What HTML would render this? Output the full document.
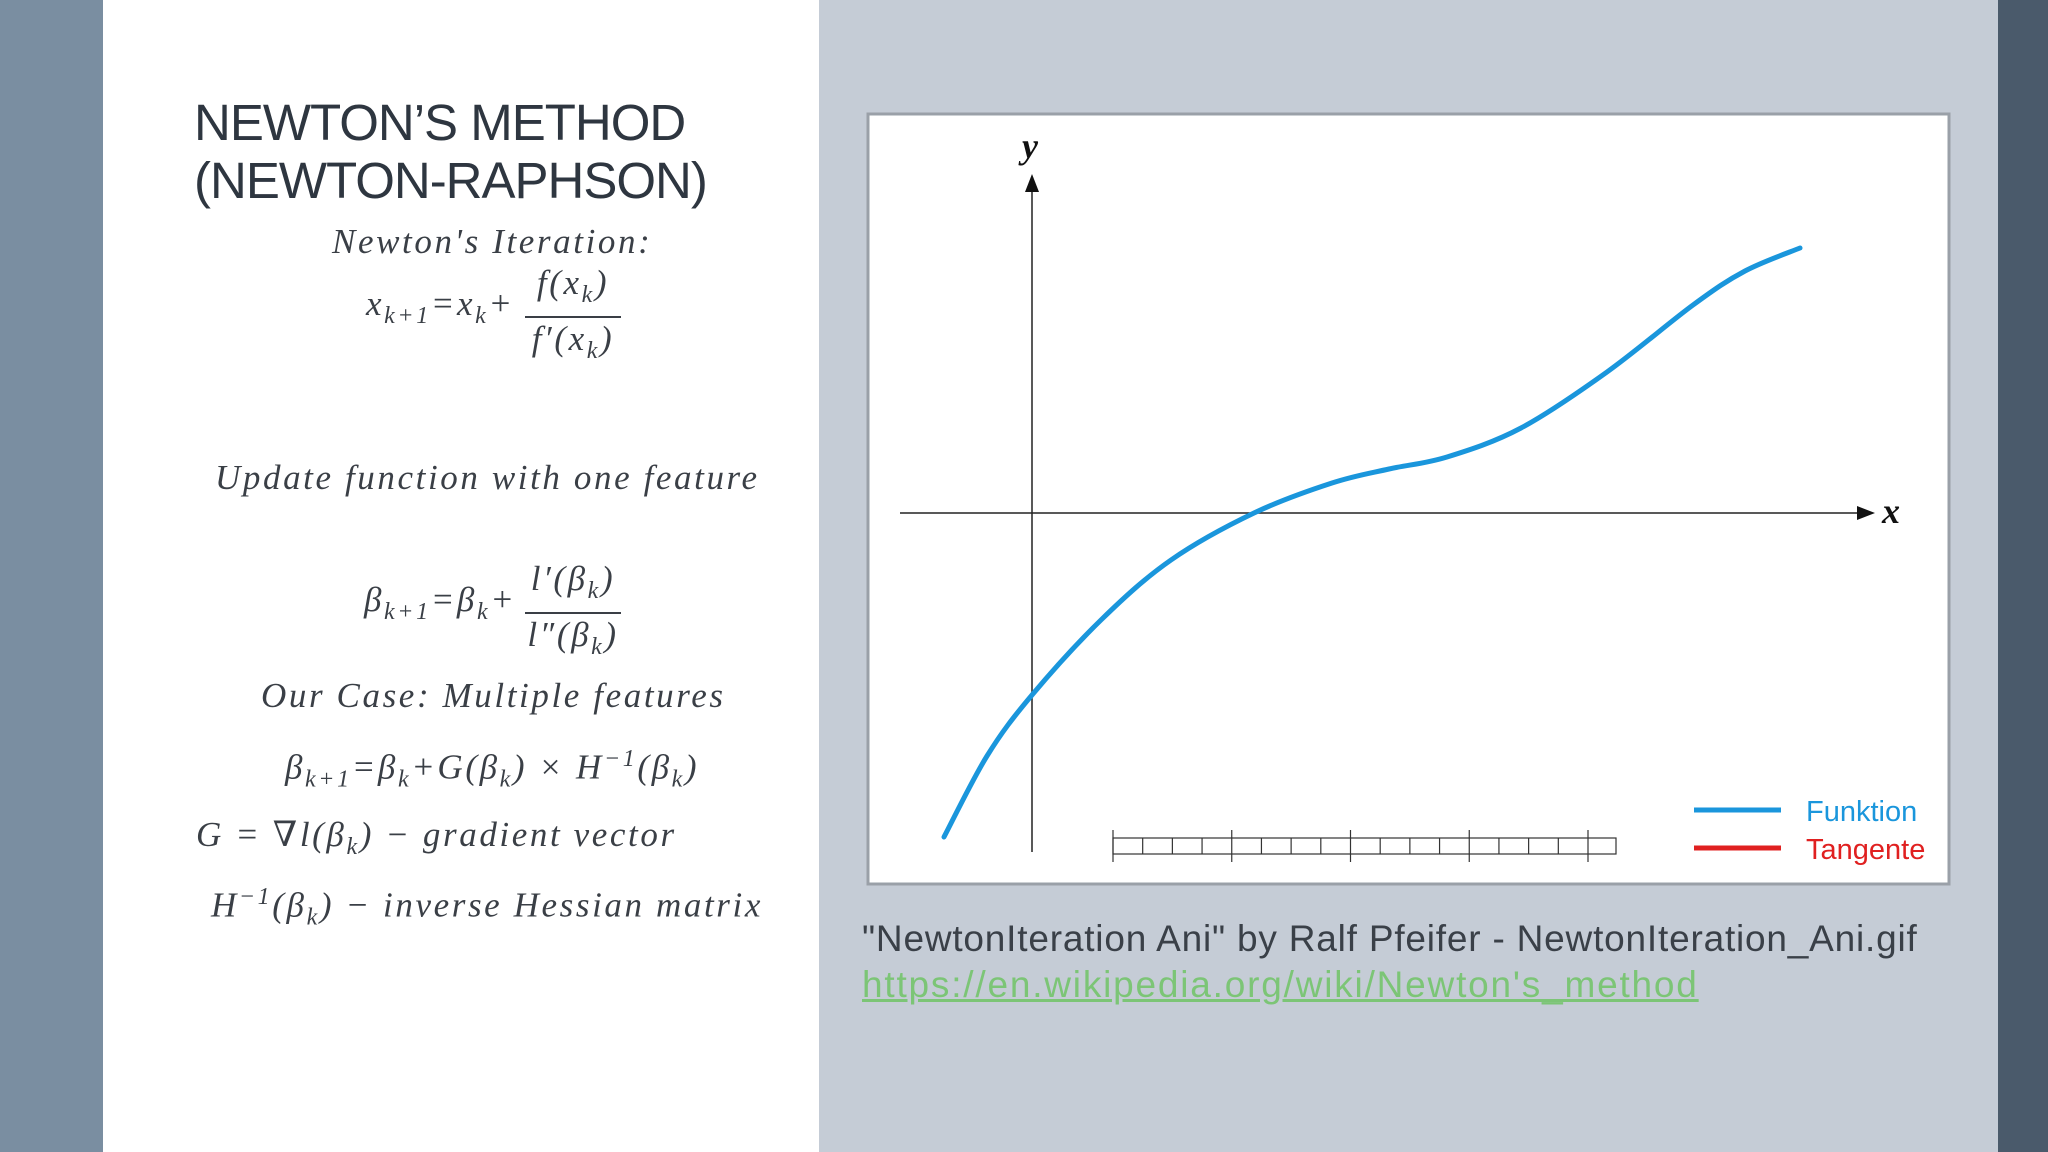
<!DOCTYPE html>
<html><head><meta charset="utf-8"><style>
body{margin:0;width:2048px;height:1152px;position:relative;overflow:hidden;background:#c5ccd6;font-family:"Liberation Sans",sans-serif}
.abs{position:absolute}
.m{font-family:"Liberation Serif","DejaVu Serif",serif;font-style:italic;color:#3a3f46;font-size:35px;white-space:nowrap;letter-spacing:2.6px}
.m sub,.m sup{font-size:24px}
</style></head><body>
<div class="abs" style="left:0;top:0;width:103px;height:1152px;background:#7a8ea1"></div>
<div class="abs" style="left:103px;top:0;width:716px;height:1152px;background:#fff"></div>
<div class="abs" style="left:1998px;top:0;width:50px;height:1152px;background:#4a5a6b"></div>
<div class="abs" style="left:194px;top:94px;font-size:51px;line-height:58px;color:#2e3640;letter-spacing:-1px">NEWTON’S METHOD<br>(NEWTON-RAPHSON)</div>

<div class="abs m" style="left:332px;top:222px">Newton's Iteration:</div>
<div class="abs m" style="left:366px;top:284px">x<sub>k+1</sub>=x<sub>k</sub>+</div>
<div class="abs m" style="left:525px;top:262px;text-align:center;width:96px;line-height:42px">f(x<sub>k</sub>)<div style="border-top:2px solid #3a3f46"></div>f′(x<sub>k</sub>)</div>
<div class="abs m" style="left:215px;top:458px">Update function with one feature</div>
<div class="abs m" style="left:364px;top:580px">β<sub>k+1</sub>=β<sub>k</sub>+</div>
<div class="abs m" style="left:525px;top:558px;text-align:center;width:96px;line-height:42px">l′(β<sub>k</sub>)<div style="border-top:2px solid #3a3f46"></div>l″(β<sub>k</sub>)</div>
<div class="abs m" style="left:261px;top:676px">Our Case: Multiple features</div>
<div class="abs m" style="left:285px;top:746px">β<sub>k+1</sub>=β<sub>k</sub>+G(β<sub>k</sub>) × H<sup>−1</sup>(β<sub>k</sub>)</div>
<div class="abs m" style="left:196px;top:815px">G = ∇l(β<sub>k</sub>) − gradient vector</div>
<div class="abs m" style="left:211px;top:884px">H<sup>−1</sup>(β<sub>k</sub>) − inverse Hessian matrix</div>

<svg class="abs" style="left:0;top:0" width="2048" height="1152">
<rect x="868" y="114" width="1081" height="770" fill="#fff" stroke="#9aa0a8" stroke-width="3"/>
<g id="plot"></g>
</svg>
<div class="abs" style="left:862px;top:918px;font-size:37px;color:#3a4048;letter-spacing:0.8px">"NewtonIteration Ani" by Ralf Pfeifer - NewtonIteration_Ani.gif</div>
<a class="abs" style="left:862px;top:964px;font-size:37px;color:#7cc576;text-decoration:underline;letter-spacing:1.8px">https://en.wikipedia.org/wiki/Newton's_method</a>
<script>
const curveX=[-0.88,-0.45,0,0.70,1.39,2.22,3.00,3.57,4.15,4.89,5.75,6.61,7.13,7.68];
const curveY=[-3.24,-2.43,-1.82,-1.06,-0.47,0,0.30,0.44,0.56,0.85,1.41,2.08,2.42,2.65];
const legendLabels=["Funktion","Tangente"];
const legendColors=["#1a96dc","#e02020"];
const ns="http://www.w3.org/2000/svg";
const g=document.getElementById('plot');
const ox=1032,oy=513,ux=100,uy=100;
const sx=v=>ox+v*ux, sy=v=>oy-v*uy;
function mk(t,a){const e=document.createElementNS(ns,t);for(const k in a)e.setAttribute(k,a[k]);g.appendChild(e);return e;}
let e=mk('line',{x1:900,y1:oy,x2:1860,y2:oy,stroke:'#222','stroke-width':1.5});

e=mk('polygon',{points:`1875,${oy} 1857,${oy-7} 1857,${oy+7}`,fill:'#111'});

e=mk('line',{x1:ox,y1:852,x2:ox,y2:188,stroke:'#222','stroke-width':1.5});

e=mk('polygon',{points:`${ox},174 ${ox-7},192 ${ox+7},192`,fill:'#111'});

e=mk('text',{x:1882,y:523,'font-family':'Liberation Serif','font-style':'italic','font-weight':'bold','font-size':36,fill:'#111'});e.textContent='x';

e=mk('text',{x:1022,y:158,'font-family':'Liberation Serif','font-style':'italic','font-weight':'bold','font-size':36,fill:'#111'});e.textContent='y';

const rx0=1113,rx1=1616,ry=838;
e=mk('rect',{x:rx0,y:ry,width:rx1-rx0,height:16,fill:'none',stroke:'#333','stroke-width':1.2});

const step=(1588-rx0)/16;
for(let i=0;i<=16;i++){const x=rx0+i*step;const big=i%4==0;e=mk('line',{x1:x,y1:big?ry-8:ry,x2:x,y2:big?ry+24:ry+16,stroke:'#333','stroke-width':1.2});
}
const P=curveX.map((x,i)=>[sx(x),sy(curveY[i])]);
let d=`M${P[0][0]},${P[0][1]}`;
for(let i=0;i<P.length-1;i++){const p0=P[Math.max(0,i-1)],p1=P[i],p2=P[i+1],p3=P[Math.min(P.length-1,i+2)];
d+=` C${p1[0]+(p2[0]-p0[0])/6},${p1[1]+(p2[1]-p0[1])/6} ${p2[0]-(p3[0]-p1[0])/6},${p2[1]-(p3[1]-p1[1])/6} ${p2[0]},${p2[1]}`;}
e=mk('path',{d:d,fill:'none',stroke:'#1a96dc','stroke-width':5,'stroke-linecap':'round'});

legendLabels.forEach((l,i)=>{const y=810+i*38;
e=mk('line',{x1:1694,y1:y,x2:1781,y2:y,stroke:legendColors[i],'stroke-width':5});

e=mk('text',{x:1806,y:y+11,'font-family':'Liberation Sans','font-size':29,fill:legendColors[i]});e.textContent=l;
});
</script>
</body></html>
